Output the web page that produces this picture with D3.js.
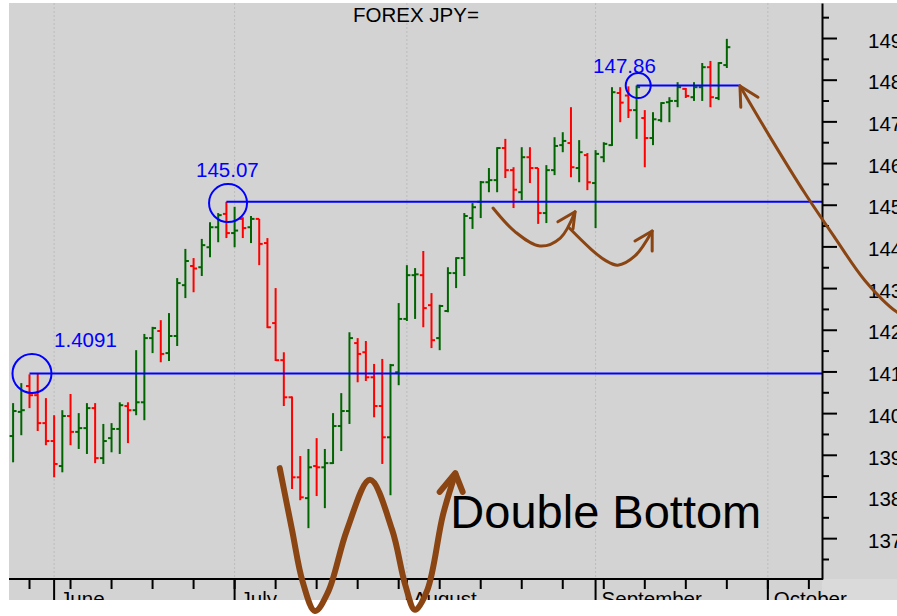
<!DOCTYPE html>
<html>
<head>
<meta charset="utf-8">
<script src="https://cdn.jsdelivr.net/npm/d3@7"></script>
<style>
  body { margin: 0; background: #fff; }
  svg { display: block; font-family: "Liberation Sans", Arial, sans-serif; }
</style>
</head>
<body>
<div id="chart"></div>
<script>
// ---- data ----
const title = "FOREX JPY=";
const startDate = "2023-05-25";   // first bar, weekdays only after that

const opens = [139.45,140.03,140.65,140.43,139.76,139.33,138.73,139.93,139.55,139.64,
  140.12,138.92,139.40,139.62,140.17,140.07,140.26,141.80,141.97,141.44,
  141.85,143.07,143.53,143.50,143.98,144.46,144.78,144.32,144.66,144.46,
  144.66,144.08,142.16,141.27,140.38,138.46,137.96,138.73,138.70,138.80,
  139.69,140.05,141.68,141.46,140.86,140.17,139.42,140.98,142.26,143.31,
  143.31,142.59,141.80,142.45,143.36,143.72,144.68,145.07,145.54,145.59,
  146.36,145.83,145.30,146.14,145.88,144.80,145.83,146.43,146.48,145.88,
  146.19,145.52,146.14,146.43,147.68,147.62,147.27,147.08,146.60,147.03,
  147.46,147.49,147.78,147.58,147.82,148.30,147.56,148.35];

const highs = [140.24,140.72,140.93,140.94,140.36,139.95,140.07,140.46,140.00,140.24,
  140.24,139.74,139.76,140.26,140.26,141.51,141.90,142.07,142.23,142.40,
  143.24,143.94,143.72,144.18,144.58,144.80,145.07,144.95,144.70,144.73,
  144.66,144.20,143.00,141.46,140.40,138.97,139.14,139.40,139.14,140.00,
  140.48,141.94,141.80,141.73,141.18,141.30,141.18,142.64,143.55,143.48,
  143.89,142.88,142.60,143.50,143.74,144.80,145.04,145.57,145.88,146.38,
  146.58,145.90,146.38,146.38,145.88,145.95,146.62,146.74,147.34,146.55,
  146.24,146.31,146.50,147.82,147.82,147.84,147.86,147.27,147.22,147.46,
  147.58,147.94,147.80,147.94,148.40,148.45,148.42,148.98];

const lows = [138.82,139.47,140.12,139.57,139.23,138.46,138.58,139.23,139.14,139.02,
  138.80,138.78,139.06,139.02,139.28,139.95,139.83,141.44,141.22,141.25,
  141.61,142.76,142.90,143.29,143.74,144.10,144.20,143.98,144.20,144.08,
  143.55,142.04,141.25,140.17,138.18,137.91,137.24,138.01,137.72,138.78,
  139.09,139.74,140.74,140.77,139.90,138.78,138.03,140.67,142.21,142.26,
  142.06,141.56,141.51,142.42,143.00,143.29,144.42,144.68,145.30,145.30,
  145.64,144.92,145.11,145.52,144.54,144.56,145.71,146.26,145.66,145.54,
  145.35,144.44,146.02,146.41,146.98,147.08,146.58,145.90,146.43,146.98,
  146.98,147.34,147.56,147.49,147.49,147.34,147.51,148.28];

const closes = [140.05,140.07,140.43,139.76,139.33,138.78,139.93,139.55,139.64,140.12,
  138.92,139.33,139.62,140.19,140.07,140.26,141.80,142.04,141.42,141.85,
  143.12,143.65,143.47,144.03,144.46,144.75,144.32,144.38,144.44,144.66,
  144.06,142.06,141.27,140.38,138.46,137.98,138.70,138.70,138.80,139.69,
  140.05,141.80,141.42,140.86,140.17,139.42,141.15,142.26,143.31,143.33,
  142.52,141.75,142.57,143.36,143.72,144.73,144.94,145.54,145.59,146.36,
  145.83,145.36,146.14,145.88,144.80,145.83,146.41,146.53,145.90,146.26,
  145.54,146.22,146.46,147.70,147.45,147.27,147.82,146.60,147.05,147.44,
  147.49,147.82,147.61,147.82,148.30,147.58,148.40,148.78];

const monthLabels = ["June", "July", "August", "September", "October"];
const priceLabels = [137, 138, 139, 140, 141, 142, 143, 144, 145, 146, 147, 148, 149];

// horizontal levels: price, first bar index, last index (null = to the axis), label
const levelPrices = [140.95, 145.07, 147.86];
const levelFrom = [2, 26, 76];
const levelTo = [null, null, 88.6];
const levelLabels = ["1.4091", "145.07", "147.86"];
const circleAt = [[2.3, 140.95, 19.5], [26.2, 145.04, 19], [76.2, 147.86, 12.5]];
const labelAt = [[5.0, 141.59], [22.3, 145.67], [70.7, 148.16]];

// hand drawn notes, in [bar index, price]
const wShape = [[32.5,138.68],[34.0,137.20],[35.3,135.95],[36.8,135.25],[38.4,135.71],
  [40.7,137.20],[43.5,138.40],[46.2,137.20],[47.8,135.88],[49.0,135.28],
  [50.5,135.76],[52.4,137.56],[53.9,138.54]];
const wHead = [[52.0,138.11],[53.9,138.56],[54.8,138.11]];
const dipA = [[58.5,144.92],[61.2,144.35],[64.2,144.01],[66.7,144.20],[68.5,144.83]];
const dipAHead = [[66.4,144.59],[68.5,144.83],[68.25,144.42]];
const dipB = [[67.8,144.44],[70.3,143.96],[72.15,143.67],[73.7,143.55],[75.8,143.77],[77.9,144.37]];
const dipBHead = [[75.8,144.13],[77.9,144.37],[77.9,143.89]];
const bigCurve = [[88.6,147.85],[92.5,146.55],[96.5,145.28],[100.2,144.20],[103.8,143.19],[107.7,142.43],[111.2,142.11]];
const bigHead = [[90.8,147.58],[88.6,147.85],[88.7,147.34]];
const noteText = "Double Bottom";
const noteAt = [53.3, 137.24];

// ---- layout ----
const width = 897, height = 616;
const plot = {left: 9, top: 3, right: 822, bottom: 579};
const green = "#006400", red = "#ff0000", blue = "#0000ff", brown = "#8b4513";

const x = d3.scaleLinear().domain([-0.5, 98.6]).range([plot.left, plot.right]);
const y = d3.scaleLinear().domain([136.02, 149.84]).range([plot.bottom, plot.top]);

function tradingDays(start, n) {
  let days = [], d = new Date(start + "T00:00:00Z");
  while (days.length < n) {
    let wd = d.getUTCDay();
    if (wd != 0 && wd != 6) days.push(new Date(d));
    d.setUTCDate(d.getUTCDate() + 1);
  }
  return days;
}
const days = tradingDays(startDate, 99);
const idx = d3.range(days.length);
const weekTicks = idx.filter(i => days[i].getUTCDay() == 1);
const monthTicks = idx.filter(i => i > 0 && days[i].getUTCMonth() != days[i - 1].getUTCMonth());

const svg = d3.select("#chart").append("svg")
  .attr("width", width).attr("height", height);

svg.append("defs").append("clipPath").attr("id", "cut")
  .append("rect").attr("x", 0).attr("y", 0).attr("width", width).attr("height", 600);

// background
svg.append("rect").attr("x", plot.left).attr("y", plot.top)
  .attr("width", width - plot.left).attr("height", 600 - plot.top).attr("fill", "#d3d3d3");
svg.append("rect").attr("x", plot.right).attr("y", plot.bottom)
  .attr("width", width - plot.right).attr("height", 600 - plot.bottom).attr("fill", "#dadada");

// dotted month grid
svg.append("g").selectAll("line").data(monthTicks).join("line")
  .attr("x1", d => x(d)).attr("x2", d => x(d))
  .attr("y1", plot.top).attr("y2", plot.bottom)
  .attr("stroke", "#bcbcbc").attr("stroke-dasharray", "2,2");

// OHLC bars
const bars = svg.append("g").selectAll("g").data(opens.map((o, i) => i)).join("g")
  .attr("stroke", i => closes[i] >= opens[i] ? green : red)
  .attr("stroke-width", 2);
bars.append("line")
  .attr("x1", i => x(i)).attr("x2", i => x(i))
  .attr("y1", i => y(highs[i])).attr("y2", i => y(lows[i]));
bars.append("line")
  .attr("x1", i => x(i) - 3.5).attr("x2", i => x(i))
  .attr("y1", i => y(opens[i])).attr("y2", i => y(opens[i]));
bars.append("line")
  .attr("x1", i => x(i)).attr("x2", i => x(i) + 3.5)
  .attr("y1", i => y(closes[i])).attr("y2", i => y(closes[i]));

// levels, circles, level labels
const lv = svg.append("g");
lv.selectAll("line").data(levelPrices).join("line")
  .attr("x1", (d, i) => x(levelFrom[i]))
  .attr("x2", (d, i) => levelTo[i] == null ? plot.right : x(levelTo[i]))
  .attr("y1", d => y(d)).attr("y2", d => y(d))
  .attr("stroke", blue).attr("stroke-width", 2);
lv.selectAll("circle").data(circleAt).join("circle")
  .attr("cx", d => x(d[0])).attr("cy", d => y(d[1])).attr("r", d => d[2])
  .attr("fill", "none").attr("stroke", blue).attr("stroke-width", 2);
lv.selectAll("text").data(levelLabels).join("text")
  .attr("x", (d, i) => x(labelAt[i][0])).attr("y", (d, i) => y(labelAt[i][1]))
  .attr("fill", blue).attr("font-size", 20.5).text(d => d);

// right price axis
const minorAxis = d3.axisRight(y).tickValues(d3.range(136.5, 150, 1))
  .tickSize(7).tickSizeOuter(0).tickFormat("");
const majorAxis = d3.axisRight(y).tickValues(priceLabels)
  .tickSize(15).tickSizeOuter(0).tickPadding(31).tickFormat(d3.format("d"));
svg.append("g").attr("transform", `translate(${plot.right},0)`).call(minorAxis)
  .call(g => g.select(".domain").remove())
  .selectAll("line").attr("stroke", "#000").attr("stroke-width", 2);
const ya = svg.append("g").attr("transform", `translate(${plot.right},0)`).call(majorAxis);
ya.attr("font-family", null).attr("font-size", 20.5);
ya.select(".domain").attr("stroke", "#000").attr("stroke-width", 2);
ya.selectAll("line").attr("stroke", "#000").attr("stroke-width", 2);
ya.selectAll("text").attr("dy", "0.45em").attr("fill", "#000");

// bottom date axis
const xa = svg.append("g").attr("clip-path", "url(#cut)");
xa.append("line").attr("x1", plot.left).attr("x2", plot.right + 1)
  .attr("y1", plot.bottom).attr("y2", plot.bottom)
  .attr("stroke", "#000").attr("stroke-width", 2);
xa.selectAll(".wk").data(weekTicks).join("line").attr("class", "wk")
  .attr("x1", d => x(d)).attr("x2", d => x(d))
  .attr("y1", plot.bottom).attr("y2", plot.bottom + 10)
  .attr("stroke", "#000").attr("stroke-width", 2);
xa.selectAll(".mo").data(monthTicks).join("line").attr("class", "mo")
  .attr("x1", d => x(d)).attr("x2", d => x(d))
  .attr("y1", plot.bottom).attr("y2", 610)
  .attr("stroke", "#000").attr("stroke-width", 2);
xa.selectAll("text").data(monthTicks).join("text")
  .attr("x", d => x(d) + 6).attr("y", 606)
  .attr("font-size", 20.5).attr("fill", "#000")
  .text((d, i) => monthLabels[i]);

// title
svg.append("text").attr("x", 353).attr("y", 22)
  .attr("font-size", 20.5).attr("fill", "#000").text(title);

// hand drawn notes
const smooth = d3.line().x(d => x(d[0])).y(d => y(d[1])).curve(d3.curveCatmullRom.alpha(0.5));
const straight = d3.line().x(d => x(d[0])).y(d => y(d[1]));
const notes = svg.append("g").attr("fill", "none").attr("stroke", brown)
  .attr("stroke-linecap", "round").attr("stroke-linejoin", "round");
notes.append("path").attr("d", smooth(wShape)).attr("stroke-width", 6);
notes.append("path").attr("d", straight(wHead)).attr("stroke-width", 6);
[dipA, dipB, bigCurve].forEach(p => notes.append("path").attr("d", smooth(p)).attr("stroke-width", 3));
[dipAHead, dipBHead, bigHead].forEach(p => notes.append("path").attr("d", straight(p)).attr("stroke-width", 3));

svg.append("text").attr("x", x(noteAt[0])).attr("y", y(noteAt[1]))
  .attr("font-size", 47).attr("fill", "#000").text(noteText);
</script>
</body>
</html>
